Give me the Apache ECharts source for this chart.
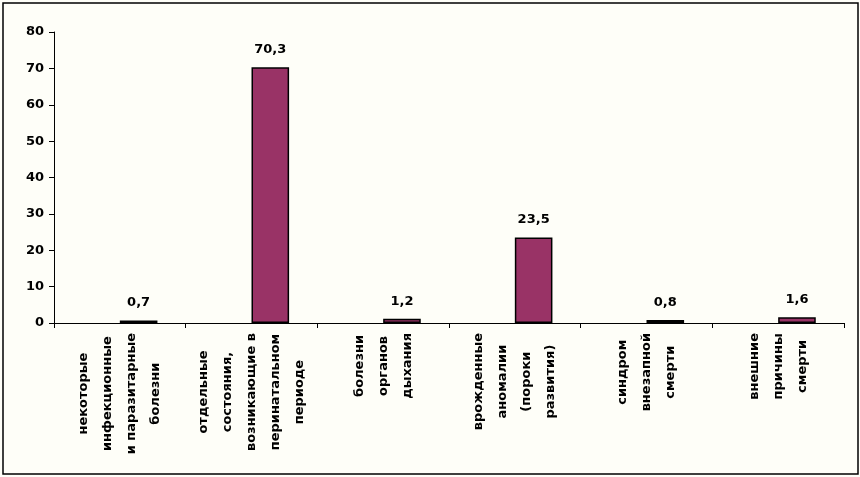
<!DOCTYPE html>
<html>
<head>
<meta charset="utf-8">
<script src="https://cdn.jsdelivr.net/npm/echarts@6/dist/echarts.min.js"></script>
<style>
html,body{margin:0;padding:0;background:#fefef8;}
#c{width:860px;height:477px;}
</style>
</head>
<body>
<div id="c"></div>
<script>
const categories = [
  "некоторые\nинфекционные\nи паразитарные\nболезни",
  "отдельные\nсостояния,\nвозникающие в\nперинатальном\nпериоде",
  "болезни\nорганов\nдыхания",
  "врожденные\nаномалии\n(пороки\nразвития)",
  "синдром\nвнезапной\nсмерти",
  "внешние\nпричины\nсмерти"
];
const emptySeries = [null, null, null, null, null, null];
const values = [0.7, 70.3, 1.2, 23.5, 0.8, 1.6];
const yTicks = { min: 0, max: 80, interval: 10 };

const FONT = "'DejaVu Sans', sans-serif";
const chart = echarts.init(document.getElementById('c'), null, { renderer: 'canvas' });
chart.setOption({
  backgroundColor: '#fefef8',
  animation: false,
  graphic: [{
    type: 'rect',
    shape: { x: 3, y: 3, width: 855, height: 471 },
    style: { fill: 'none', stroke: '#000', lineWidth: 1.5 },
    silent: true
  }],
  grid: { left: 54, right: 16, top: 32, bottom: 154, containLabel: false },
  xAxis: {
    type: 'category',
    data: categories,
    boundaryGap: true,
    axisLine: { show: true, lineStyle: { color: '#000', width: 1 } },
    axisTick: { show: true, length: 5, lineStyle: { color: '#000' } },
    axisLabel: {
      interval: 0,
      rotate: 90,
      margin: 10,
      fontSize: 13,
      fontWeight: 'bold',
      fontFamily: FONT,
      color: '#000',
      lineHeight: 24,
      formatter: function (v) {
        return v.split('\n').map(function (l) { return '{c|' + l + '}'; }).join('\n');
      },
      rich: {
        c: {
          align: 'center',
          fontSize: 13,
          fontWeight: 'bold',
          fontFamily: FONT,
          color: '#000',
          lineHeight: 24
        }
      }
    }
  },
  yAxis: {
    type: 'value',
    min: yTicks.min,
    max: yTicks.max,
    interval: yTicks.interval,
    axisLine: { show: true, lineStyle: { color: '#000', width: 1 } },
    axisTick: { show: true, length: 5, lineStyle: { color: '#000' } },
    splitLine: { show: false },
    axisLabel: {
      margin: 10,
      fontSize: 13,
      fontWeight: 'bold',
      fontFamily: FONT,
      color: '#000'
    }
  },
  series: [
    {
      type: 'bar',
      data: emptySeries,
      barWidth: 37.6,
      barGap: '0%',
      itemStyle: { color: '#993366' }
    },
    {
      type: 'bar',
      data: values,
      barWidth: 37.6,
      barGap: '0%',
      itemStyle: { color: '#993366', borderColor: '#000', borderWidth: 1.5 },
      label: {
        show: true,
        position: 'top',
        distance: 11,
        fontSize: 13,
        fontWeight: 'bold',
        fontFamily: FONT,
        color: '#000',
        formatter: function (p) { return String(p.value).replace('.', ','); }
      }
    }
  ]
});
</script>
</body>
</html>
